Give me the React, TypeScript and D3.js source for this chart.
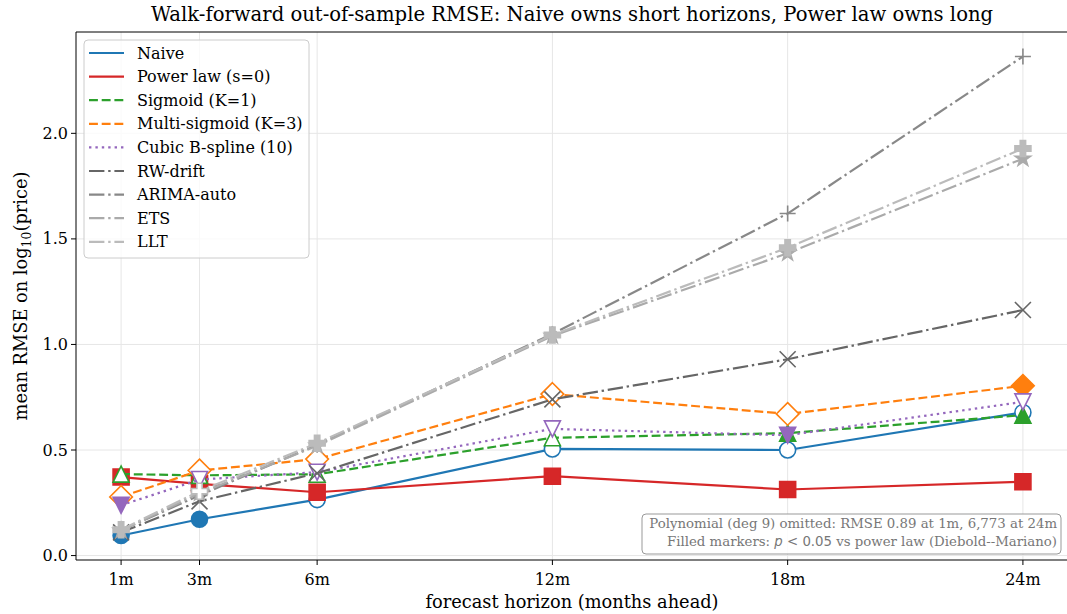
import React from 'react';
import * as d3 from 'd3';

const horizons = [1, 3, 6, 12, 18, 24];
const tickLabels = ['1m', '3m', '6m', '12m', '18m', '24m'];
const yTicks = [0, 0.5, 1, 1.5, 2];

const naive = [0.095, 0.172, 0.265, 0.505, 0.5, 0.678];
const naiveFilled = [1, 1, 0, 0, 0, 0];
const powerLaw = [0.372, 0.34, 0.3, 0.376, 0.313, 0.35];
const powerFilled = [1, 1, 1, 1, 1, 1];
const sigmoid = [0.386, 0.38, 0.385, 0.558, 0.58, 0.665];
const sigmoidFilled = [0, 0, 0, 0, 1, 1];
const multiSigmoid = [0.278, 0.403, 0.457, 0.765, 0.671, 0.804];
const multiFilled = [0, 0, 0, 0, 0, 1];
const spline = [0.238, 0.36, 0.395, 0.6, 0.57, 0.728];
const splineFilled = [1, 0, 0, 0, 1, 0];
const rwDrift = [0.11, 0.257, 0.39, 0.74, 0.93, 1.163];
const arima = [0.12, 0.285, 0.525, 1.05, 1.62, 2.364];
const ets = [0.118, 0.295, 0.52, 1.04, 1.432, 1.88];
const etsFilled = [1, 0, 1, 1, 1, 1];
const llt = [0.122, 0.305, 0.532, 1.045, 1.458, 1.928];
const lltFilled = [1, 0, 1, 1, 1, 1];

const DASHED = '8.9,3.8';
const DOTTED = '2.4,4';
const DASHDOT = '15.4,3.8,2.4,3.8';

const series = [
  { name: 'Naive', values: naive, filled: naiveFilled, color: '#1f77b4', dash: '', marker: 'o' },
  { name: 'Power law (s=0)', values: powerLaw, filled: powerFilled, color: '#d62728', dash: '', marker: 's' },
  { name: 'Sigmoid (K=1)', values: sigmoid, filled: sigmoidFilled, color: '#2ca02c', dash: DASHED, marker: '^' },
  { name: 'Multi-sigmoid (K=3)', values: multiSigmoid, filled: multiFilled, color: '#ff7f0e', dash: DASHED, marker: 'D' },
  { name: 'Cubic B-spline (10)', values: spline, filled: splineFilled, color: '#9467bd', dash: DOTTED, marker: 'v' },
  { name: 'RW-drift', values: rwDrift, filled: null, color: '#666666', dash: DASHDOT, marker: 'x' },
  { name: 'ARIMA-auto', values: arima, filled: null, color: '#888888', dash: DASHDOT, marker: '+' },
  { name: 'ETS', values: ets, filled: etsFilled, color: '#aaaaaa', dash: DASHDOT, marker: '*' },
  { name: 'LLT', values: llt, filled: lltFilled, color: '#bbbbbb', dash: DASHDOT, marker: 'P' },
];

const W = 1067;
const H = 614;
const L = 76;
const R = 1068;
const T = 32;
const B = 560;
const MS = 16;
const LW = 2.2;
const serif = 'DejaVu Serif';

function markerPath(m: string, s: number) {
  const h = s / 2;
  if (m === '^') return `M0,${-h}L${-h},${h}L${h},${h}Z`;
  if (m === 'v') return `M0,${h}L${-h},${-h}L${h},${-h}Z`;
  if (m === 's') return `M${-h},${-h}H${h}V${h}H${-h}Z`;
  if (m === 'D') {
    const d = s * 0.7071;
    return `M0,${-d}L${d},0L0,${d}L${-d},0Z`;
  }
  if (m === 'x') return `M${-h},${-h}L${h},${h}M${-h},${h}L${h},${-h}`;
  if (m === '+') return `M${-h},0H${h}M0,${-h}V${h}`;
  if (m === '*') {
    const pts: string[] = [];
    for (let i = 0; i < 10; i++) {
      const r = i % 2 === 0 ? h : h * 0.381966;
      const a = (i * Math.PI) / 5;
      pts.push(`${(r * Math.sin(a)).toFixed(2)},${(-r * Math.cos(a)).toFixed(2)}`);
    }
    return 'M' + pts.join('L') + 'Z';
  }
  if (m === 'P') {
    const t = s / 6;
    return `M${-t},${-h}H${t}V${-t}H${h}V${t}H${t}V${h}H${-t}V${t}H${-h}V${-t}H${-t}Z`;
  }
  return '';
}

export default function App() {
  const x = d3.scaleLinear().domain([-0.15, 25.15]).range([L, R]);
  const y = d3.scaleLinear().domain([-0.021, 2.48]).range([B, T]);
  const line = d3
    .line<number>()
    .x((_, i) => x(horizons[i]))
    .y((d) => y(d));

  const legX = 84;
  const legY = 40;
  const rowH = 23.6;

  return (
    <svg width={W} height={H} style={{ position: 'absolute', left: 0, top: 0 }} fontFamily={serif}>
      <rect width={W} height={H} fill="#fff" />
      <defs>
        <clipPath id="plot">
          <rect x={L} y={T} width={R - L} height={B - T} />
        </clipPath>
      </defs>

      {/* grid */}
      <g stroke="#e6e6e6" strokeWidth={1}>
        {horizons.map((h) => (
          <line key={'gx' + h} x1={x(h)} x2={x(h)} y1={T} y2={B} />
        ))}
        {yTicks.map((v) => (
          <line key={'gy' + v} x1={L} x2={R} y1={y(v)} y2={y(v)} />
        ))}
      </g>

      {/* series, drawn in legend order so later ones sit on top */}
      <g clipPath="url(#plot)">
        {series.map((s) => (
          <g key={s.name}>
            <path
              d={line(s.values) || ''}
              fill="none"
              stroke={s.color}
              strokeWidth={LW}
              strokeDasharray={s.dash || undefined}
            />
            {s.values.map((v, i) => {
              const open = s.marker === 'x' || s.marker === '+';
              const fill = open ? 'none' : s.filled && s.filled[i] ? s.color : '#fff';
              const tr = `translate(${x(horizons[i])},${y(v)})`;
              if (s.marker === 'o') {
                return <circle key={i} transform={tr} r={MS / 2} fill={fill} stroke={s.color} strokeWidth={1.6} />;
              }
              return (
                <path
                  key={i}
                  transform={tr}
                  d={markerPath(s.marker, MS)}
                  fill={fill}
                  stroke={s.color}
                  strokeWidth={1.6}
                />
              );
            })}
          </g>
        ))}
      </g>

      {/* spines */}
      <g stroke="#000" strokeWidth={1} fill="none">
        <line x1={L} x2={L} y1={T} y2={B} />
        <line x1={L} x2={R} y1={B} y2={B} />
        <line x1={L} x2={R} y1={T} y2={T} />
        <line x1={R} x2={R} y1={T} y2={B} />
      </g>

      {/* x ticks */}
      {horizons.map((h, i) => (
        <g key={'xt' + h}>
          <line x1={x(h)} x2={x(h)} y1={B} y2={B + 5} stroke="#000" />
          <text x={x(h)} y={B + 25} textAnchor="middle" fontSize={16}>
            {tickLabels[i]}
          </text>
        </g>
      ))}
      {/* y ticks */}
      {yTicks.map((v) => (
        <g key={'yt' + v}>
          <line x1={L - 5} x2={L} y1={y(v)} y2={y(v)} stroke="#000" />
          <text x={L - 8} y={y(v) + 5.5} textAnchor="end" fontSize={16}>
            {d3.format('.1f')(v)}
          </text>
        </g>
      ))}

      <text x={(L + R) / 2} y={21} textAnchor="middle" fontSize={19.6}>
        Walk-forward out-of-sample RMSE: Naive owns short horizons, Power law owns long
      </text>
      <text x={(L + R) / 2} y={608} textAnchor="middle" fontSize={17.8}>
        forecast horizon (months ahead)
      </text>
      <text transform={`translate(27,${(T + B) / 2}) rotate(-90)`} textAnchor="middle" fontSize={17.8}>
        mean RMSE on log
        <tspan fontSize={12.5} dy={4}>10</tspan>
        <tspan dy={-4}>(price)</tspan>
      </text>

      {/* legend */}
      <rect x={legX} y={legY} width={225} height={218} rx={4} fill="#fff" fillOpacity={0.8} stroke="#cccccc" />
      {series.map((s, i) => {
        const cy = legY + 13 + i * rowH;
        return (
          <g key={'lg' + s.name}>
            <line
              x1={legX + 5}
              x2={legX + 40}
              y1={cy}
              y2={cy}
              stroke={s.color}
              strokeWidth={LW}
              strokeDasharray={s.dash || undefined}
            />
            <text x={legX + 53} y={cy + 5.5} fontSize={16}>
              {s.name}
            </text>
          </g>
        );
      })}

      {/* annotation */}
      <rect x={642} y={514} width={419} height={40} rx={4} fill="#fff" fillOpacity={0.85} stroke="#999" />
      <text x={1057} y={528} textAnchor="end" fontSize={13.3} fill="#777">
        Polynomial (deg 9) omitted: RMSE 0.89 at 1m, 6,773 at 24m
      </text>
      <text x={1057} y={546} textAnchor="end" fontSize={13.3} fill="#777">
        Filled markers:{' '}
        <tspan fontFamily="DejaVu Sans" fontStyle="italic">p</tspan>
        <tspan fontFamily="DejaVu Sans"> &lt; 0.05</tspan> vs power law (Diebold--Mariano)
      </text>
    </svg>
  );
}
